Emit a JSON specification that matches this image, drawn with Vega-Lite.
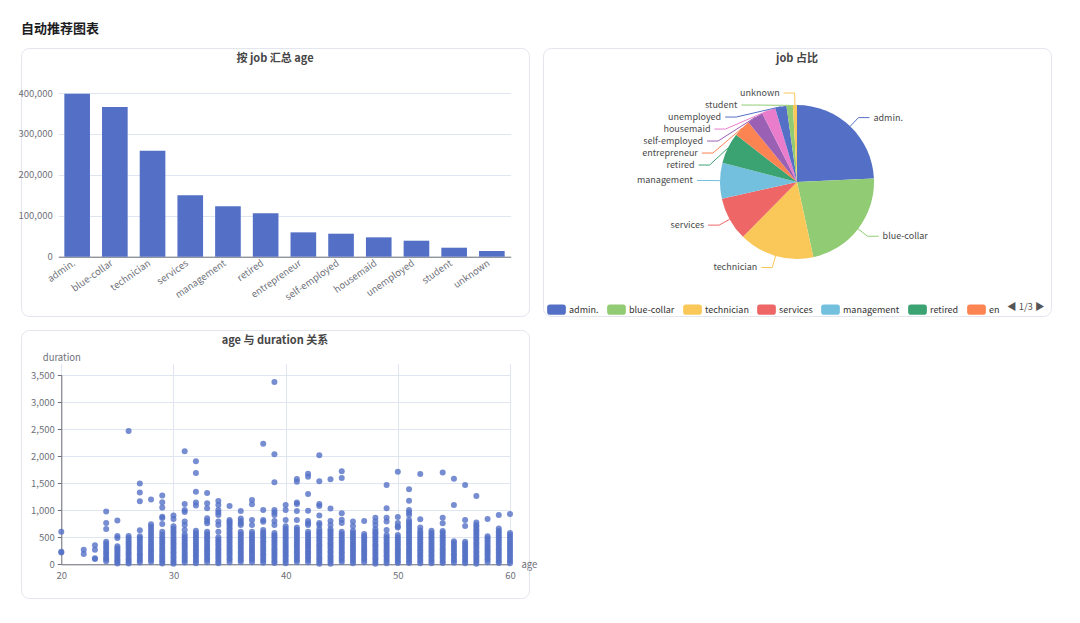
{
  "$schema": "https://vega.github.io/schema/vega-lite/v6.json",
  "background": "#ffffff",
  "padding": {"left": 17, "top": 22, "right": 0, "bottom": 0},
  "title": {"text": "自动推荐图表", "anchor": "start", "frame": "group", "fontSize": 13, "fontWeight": "bold", "color": "#1d1d1f", "offset": 12},
  "bounds": "flush",
  "spacing": 14,
  "columns": 2,
  "resolve": {
    "scale": {"x": "independent", "y": "independent", "color": "independent"},
    "axis": {"x": "independent", "y": "independent"},
    "legend": {"color": "independent"}
  },
  "datasets": {
    "jobs": [
      {"job": "admin.", "age": 398000},
      {"job": "blue-collar", "age": 366000},
      {"job": "technician", "age": 259000},
      {"job": "services", "age": 150000},
      {"job": "management", "age": 123000},
      {"job": "retired", "age": 106000},
      {"job": "entrepreneur", "age": 59500},
      {"job": "self-employed", "age": 56200},
      {"job": "housemaid", "age": 47300},
      {"job": "unemployed", "age": 39100},
      {"job": "student", "age": 22000},
      {"job": "unknown", "age": 13900}
    ],
    "calls": [
      {"age":20,"duration":600},{"age":20,"duration":232},{"age":20,"duration":218},
      {"age":22,"duration":268},{"age":22,"duration":192},
      {"age":23,"duration":352},{"age":23,"duration":268},{"age":23,"duration":112},{"age":23,"duration":98},
      {"age":24,"duration":978},{"age":24,"duration":762},{"age":24,"duration":652},{"age":24,"duration":415},{"age":24,"duration":378},{"age":24,"duration":336},{"age":24,"duration":292},{"age":24,"duration":246},{"age":24,"duration":208},{"age":24,"duration":172},{"age":24,"duration":128},{"age":24,"duration":93},{"age":24,"duration":57},
      {"age":25,"duration":812},{"age":25,"duration":522},{"age":25,"duration":488},{"age":25,"duration":334},{"age":25,"duration":298},{"age":25,"duration":262},{"age":25,"duration":224},{"age":25,"duration":181},{"age":25,"duration":147},{"age":25,"duration":109},{"age":25,"duration":74},{"age":25,"duration":42},{"age":25,"duration":16},
      {"age":26,"duration":2465},{"age":26,"duration":524},{"age":26,"duration":486},{"age":26,"duration":441},{"age":26,"duration":398},{"age":26,"duration":362},{"age":26,"duration":318},{"age":26,"duration":283},{"age":26,"duration":238},{"age":26,"duration":201},{"age":26,"duration":163},{"age":26,"duration":118},{"age":26,"duration":86},{"age":26,"duration":49},{"age":26,"duration":14},
      {"age":27,"duration":1492},{"age":27,"duration":1326},{"age":27,"duration":1166},{"age":27,"duration":628},{"age":27,"duration":517},{"age":27,"duration":488},{"age":27,"duration":447},{"age":27,"duration":404},{"age":27,"duration":358},{"age":27,"duration":313},{"age":27,"duration":272},{"age":27,"duration":229},{"age":27,"duration":188},{"age":27,"duration":152},{"age":27,"duration":108},{"age":27,"duration":71},{"age":27,"duration":33},
      {"age":28,"duration":1196},{"age":28,"duration":741},{"age":28,"duration":693},{"age":28,"duration":642},{"age":28,"duration":598},{"age":28,"duration":553},{"age":28,"duration":504},{"age":28,"duration":458},{"age":28,"duration":412},{"age":28,"duration":368},{"age":28,"duration":323},{"age":28,"duration":279},{"age":28,"duration":241},{"age":28,"duration":198},{"age":28,"duration":157},{"age":28,"duration":121},{"age":28,"duration":78},{"age":28,"duration":44},
      {"age":29,"duration":1271},{"age":29,"duration":1146},{"age":29,"duration":1049},{"age":29,"duration":881},{"age":29,"duration":858},{"age":29,"duration":746},{"age":29,"duration":602},{"age":29,"duration":553},{"age":29,"duration":502},{"age":29,"duration":458},{"age":29,"duration":419},{"age":29,"duration":381},{"age":29,"duration":332},{"age":29,"duration":288},{"age":29,"duration":251},{"age":29,"duration":209},{"age":29,"duration":168},{"age":29,"duration":131},{"age":29,"duration":88},{"age":29,"duration":52},{"age":29,"duration":14},
      {"age":30,"duration":902},{"age":30,"duration":838},{"age":30,"duration":702},{"age":30,"duration":657},{"age":30,"duration":612},{"age":30,"duration":568},{"age":30,"duration":523},{"age":30,"duration":478},{"age":30,"duration":442},{"age":30,"duration":398},{"age":30,"duration":361},{"age":30,"duration":318},{"age":30,"duration":282},{"age":30,"duration":238},{"age":30,"duration":203},{"age":30,"duration":158},{"age":30,"duration":122},{"age":30,"duration":79},{"age":30,"duration":41},{"age":30,"duration":11},
      {"age":31,"duration":2089},{"age":31,"duration":1116},{"age":31,"duration":1002},{"age":31,"duration":968},{"age":31,"duration":792},{"age":31,"duration":726},{"age":31,"duration":633},{"age":31,"duration":552},{"age":31,"duration":511},{"age":31,"duration":468},{"age":31,"duration":432},{"age":31,"duration":388},{"age":31,"duration":352},{"age":31,"duration":309},{"age":31,"duration":272},{"age":31,"duration":228},{"age":31,"duration":191},{"age":31,"duration":148},{"age":31,"duration":112},{"age":31,"duration":68},{"age":31,"duration":31},
      {"age":32,"duration":1904},{"age":32,"duration":1688},{"age":32,"duration":1343},{"age":32,"duration":1141},{"age":32,"duration":1086},{"age":32,"duration":622},{"age":32,"duration":578},{"age":32,"duration":541},{"age":32,"duration":498},{"age":32,"duration":462},{"age":32,"duration":418},{"age":32,"duration":382},{"age":32,"duration":338},{"age":32,"duration":302},{"age":32,"duration":258},{"age":32,"duration":221},{"age":32,"duration":178},{"age":32,"duration":142},{"age":32,"duration":98},{"age":32,"duration":61},{"age":32,"duration":19},
      {"age":33,"duration":1319},{"age":33,"duration":1128},{"age":33,"duration":1036},{"age":33,"duration":851},{"age":33,"duration":802},{"age":33,"duration":758},{"age":33,"duration":601},{"age":33,"duration":562},{"age":33,"duration":518},{"age":33,"duration":482},{"age":33,"duration":438},{"age":33,"duration":401},{"age":33,"duration":358},{"age":33,"duration":322},{"age":33,"duration":278},{"age":33,"duration":241},{"age":33,"duration":198},{"age":33,"duration":161},{"age":33,"duration":118},{"age":33,"duration":82},{"age":33,"duration":38},
      {"age":34,"duration":1171},{"age":34,"duration":1097},{"age":34,"duration":1003},{"age":34,"duration":958},{"age":34,"duration":912},{"age":34,"duration":792},{"age":34,"duration":728},{"age":34,"duration":604},{"age":34,"duration":502},{"age":34,"duration":458},{"age":34,"duration":421},{"age":34,"duration":378},{"age":34,"duration":342},{"age":34,"duration":298},{"age":34,"duration":262},{"age":34,"duration":218},{"age":34,"duration":182},{"age":34,"duration":138},{"age":34,"duration":102},{"age":34,"duration":58},{"age":34,"duration":21},
      {"age":35,"duration":1078},{"age":35,"duration":821},{"age":35,"duration":788},{"age":35,"duration":758},{"age":35,"duration":722},{"age":35,"duration":678},{"age":35,"duration":642},{"age":35,"duration":598},{"age":35,"duration":562},{"age":35,"duration":518},{"age":35,"duration":482},{"age":35,"duration":438},{"age":35,"duration":402},{"age":35,"duration":358},{"age":35,"duration":322},{"age":35,"duration":278},{"age":35,"duration":242},{"age":35,"duration":198},{"age":35,"duration":162},{"age":35,"duration":118},{"age":35,"duration":82},{"age":35,"duration":38},
      {"age":36,"duration":986},{"age":36,"duration":849},{"age":36,"duration":802},{"age":36,"duration":758},{"age":36,"duration":728},{"age":36,"duration":602},{"age":36,"duration":558},{"age":36,"duration":522},{"age":36,"duration":478},{"age":36,"duration":442},{"age":36,"duration":398},{"age":36,"duration":362},{"age":36,"duration":318},{"age":36,"duration":282},{"age":36,"duration":238},{"age":36,"duration":202},{"age":36,"duration":158},{"age":36,"duration":122},{"age":36,"duration":78},{"age":36,"duration":42},
      {"age":37,"duration":1189},{"age":37,"duration":1109},{"age":37,"duration":819},{"age":37,"duration":728},{"age":37,"duration":604},{"age":37,"duration":562},{"age":37,"duration":518},{"age":37,"duration":482},{"age":37,"duration":438},{"age":37,"duration":401},{"age":37,"duration":358},{"age":37,"duration":322},{"age":37,"duration":278},{"age":37,"duration":242},{"age":37,"duration":198},{"age":37,"duration":162},{"age":37,"duration":118},{"age":37,"duration":82},{"age":37,"duration":38},
      {"age":38,"duration":2231},{"age":38,"duration":1004},{"age":38,"duration":821},{"age":38,"duration":789},{"age":38,"duration":632},{"age":38,"duration":588},{"age":38,"duration":552},{"age":38,"duration":508},{"age":38,"duration":472},{"age":38,"duration":428},{"age":38,"duration":392},{"age":38,"duration":348},{"age":38,"duration":312},{"age":38,"duration":268},{"age":38,"duration":232},{"age":38,"duration":188},{"age":38,"duration":152},{"age":38,"duration":108},{"age":38,"duration":72},{"age":38,"duration":28},
      {"age":39,"duration":3372},{"age":39,"duration":2033},{"age":39,"duration":1515},{"age":39,"duration":1006},{"age":39,"duration":958},{"age":39,"duration":912},{"age":39,"duration":801},{"age":39,"duration":728},{"age":39,"duration":581},{"age":39,"duration":538},{"age":39,"duration":502},{"age":39,"duration":458},{"age":39,"duration":422},{"age":39,"duration":378},{"age":39,"duration":342},{"age":39,"duration":298},{"age":39,"duration":262},{"age":39,"duration":218},{"age":39,"duration":182},{"age":39,"duration":138},{"age":39,"duration":102},{"age":39,"duration":58},{"age":39,"duration":22},
      {"age":40,"duration":1097},{"age":40,"duration":1004},{"age":40,"duration":819},{"age":40,"duration":702},{"age":40,"duration":658},{"age":40,"duration":622},{"age":40,"duration":578},{"age":40,"duration":542},{"age":40,"duration":498},{"age":40,"duration":462},{"age":40,"duration":418},{"age":40,"duration":382},{"age":40,"duration":338},{"age":40,"duration":302},{"age":40,"duration":258},{"age":40,"duration":222},{"age":40,"duration":178},{"age":40,"duration":142},{"age":40,"duration":98},{"age":40,"duration":62},{"age":40,"duration":18},
      {"age":41,"duration":1577},{"age":41,"duration":1528},{"age":41,"duration":1141},{"age":41,"duration":1114},{"age":41,"duration":986},{"age":41,"duration":821},{"age":41,"duration":682},{"age":41,"duration":638},{"age":41,"duration":602},{"age":41,"duration":558},{"age":41,"duration":522},{"age":41,"duration":478},{"age":41,"duration":442},{"age":41,"duration":398},{"age":41,"duration":362},{"age":41,"duration":318},{"age":41,"duration":282},{"age":41,"duration":238},{"age":41,"duration":202},{"age":41,"duration":158},{"age":41,"duration":122},{"age":41,"duration":78},{"age":41,"duration":42},
      {"age":42,"duration":1676},{"age":42,"duration":1620},{"age":42,"duration":1299},{"age":42,"duration":991},{"age":42,"duration":802},{"age":42,"duration":758},{"age":42,"duration":726},{"age":42,"duration":602},{"age":42,"duration":558},{"age":42,"duration":522},{"age":42,"duration":478},{"age":42,"duration":442},{"age":42,"duration":398},{"age":42,"duration":362},{"age":42,"duration":318},{"age":42,"duration":282},{"age":42,"duration":238},{"age":42,"duration":202},{"age":42,"duration":158},{"age":42,"duration":122},{"age":42,"duration":78},{"age":42,"duration":38},
      {"age":43,"duration":2015},{"age":43,"duration":1534},{"age":43,"duration":1116},{"age":43,"duration":1078},{"age":43,"duration":901},{"age":43,"duration":762},{"age":43,"duration":726},{"age":43,"duration":652},{"age":43,"duration":608},{"age":43,"duration":572},{"age":43,"duration":528},{"age":43,"duration":492},{"age":43,"duration":448},{"age":43,"duration":412},{"age":43,"duration":368},{"age":43,"duration":332},{"age":43,"duration":288},{"age":43,"duration":252},{"age":43,"duration":208},{"age":43,"duration":172},{"age":43,"duration":128},{"age":43,"duration":92},{"age":43,"duration":48},{"age":43,"duration":12},
      {"age":44,"duration":1571},{"age":44,"duration":1030},{"age":44,"duration":801},{"age":44,"duration":726},{"age":44,"duration":648},{"age":44,"duration":612},{"age":44,"duration":568},{"age":44,"duration":532},{"age":44,"duration":488},{"age":44,"duration":452},{"age":44,"duration":408},{"age":44,"duration":372},{"age":44,"duration":328},{"age":44,"duration":292},{"age":44,"duration":248},{"age":44,"duration":212},{"age":44,"duration":168},{"age":44,"duration":132},{"age":44,"duration":88},{"age":44,"duration":52},{"age":44,"duration":12},
      {"age":45,"duration":1719},{"age":45,"duration":1596},{"age":45,"duration":943},{"age":45,"duration":822},{"age":45,"duration":762},{"age":45,"duration":602},{"age":45,"duration":558},{"age":45,"duration":522},{"age":45,"duration":478},{"age":45,"duration":442},{"age":45,"duration":398},{"age":45,"duration":362},{"age":45,"duration":318},{"age":45,"duration":282},{"age":45,"duration":238},{"age":45,"duration":202},{"age":45,"duration":158},{"age":45,"duration":122},{"age":45,"duration":78},{"age":45,"duration":42},
      {"age":46,"duration":790},{"age":46,"duration":708},{"age":46,"duration":622},{"age":46,"duration":578},{"age":46,"duration":542},{"age":46,"duration":498},{"age":46,"duration":462},{"age":46,"duration":418},{"age":46,"duration":382},{"age":46,"duration":338},{"age":46,"duration":302},{"age":46,"duration":258},{"age":46,"duration":222},{"age":46,"duration":178},{"age":46,"duration":142},{"age":46,"duration":98},{"age":46,"duration":62},{"age":46,"duration":18},
      {"age":47,"duration":801},{"age":47,"duration":562},{"age":47,"duration":518},{"age":47,"duration":482},{"age":47,"duration":438},{"age":47,"duration":402},{"age":47,"duration":358},{"age":47,"duration":322},{"age":47,"duration":278},{"age":47,"duration":242},{"age":47,"duration":198},{"age":47,"duration":162},{"age":47,"duration":118},{"age":47,"duration":82},{"age":47,"duration":38},
      {"age":48,"duration":862},{"age":48,"duration":792},{"age":48,"duration":727},{"age":48,"duration":652},{"age":48,"duration":608},{"age":48,"duration":572},{"age":48,"duration":528},{"age":48,"duration":492},{"age":48,"duration":448},{"age":48,"duration":412},{"age":48,"duration":368},{"age":48,"duration":332},{"age":48,"duration":288},{"age":48,"duration":252},{"age":48,"duration":208},{"age":48,"duration":172},{"age":48,"duration":128},{"age":48,"duration":92},{"age":48,"duration":48},{"age":48,"duration":12},
      {"age":49,"duration":1466},{"age":49,"duration":1035},{"age":49,"duration":862},{"age":49,"duration":791},{"age":49,"duration":636},{"age":49,"duration":542},{"age":49,"duration":498},{"age":49,"duration":462},{"age":49,"duration":418},{"age":49,"duration":382},{"age":49,"duration":338},{"age":49,"duration":302},{"age":49,"duration":258},{"age":49,"duration":222},{"age":49,"duration":178},{"age":49,"duration":142},{"age":49,"duration":98},{"age":49,"duration":62},{"age":49,"duration":18},
      {"age":50,"duration":1713},{"age":50,"duration":876},{"age":50,"duration":762},{"age":50,"duration":702},{"age":50,"duration":681},{"age":50,"duration":541},{"age":50,"duration":502},{"age":50,"duration":458},{"age":50,"duration":422},{"age":50,"duration":378},{"age":50,"duration":342},{"age":50,"duration":298},{"age":50,"duration":262},{"age":50,"duration":218},{"age":50,"duration":182},{"age":50,"duration":138},{"age":50,"duration":102},{"age":50,"duration":58},{"age":50,"duration":22},
      {"age":51,"duration":1386},{"age":51,"duration":1177},{"age":51,"duration":1002},{"age":51,"duration":958},{"age":51,"duration":911},{"age":51,"duration":821},{"age":51,"duration":778},{"age":51,"duration":742},{"age":51,"duration":698},{"age":51,"duration":662},{"age":51,"duration":618},{"age":51,"duration":582},{"age":51,"duration":538},{"age":51,"duration":502},{"age":51,"duration":458},{"age":51,"duration":422},{"age":51,"duration":378},{"age":51,"duration":342},{"age":51,"duration":298},{"age":51,"duration":262},{"age":51,"duration":218},{"age":51,"duration":182},{"age":51,"duration":138},{"age":51,"duration":102},{"age":51,"duration":58},{"age":51,"duration":22},
      {"age":52,"duration":1670},{"age":52,"duration":832},{"age":52,"duration":681},{"age":52,"duration":622},{"age":52,"duration":578},{"age":52,"duration":542},{"age":52,"duration":498},{"age":52,"duration":462},{"age":52,"duration":418},{"age":52,"duration":382},{"age":52,"duration":338},{"age":52,"duration":302},{"age":52,"duration":258},{"age":52,"duration":222},{"age":52,"duration":178},{"age":52,"duration":142},{"age":52,"duration":98},{"age":52,"duration":62},{"age":52,"duration":18},
      {"age":53,"duration":621},{"age":53,"duration":578},{"age":53,"duration":542},{"age":53,"duration":498},{"age":53,"duration":462},{"age":53,"duration":418},{"age":53,"duration":382},{"age":53,"duration":338},{"age":53,"duration":302},{"age":53,"duration":258},{"age":53,"duration":222},{"age":53,"duration":178},{"age":53,"duration":142},{"age":53,"duration":98},{"age":53,"duration":62},{"age":53,"duration":18},
      {"age":54,"duration":1695},{"age":54,"duration":862},{"age":54,"duration":761},{"age":54,"duration":618},{"age":54,"duration":582},{"age":54,"duration":538},{"age":54,"duration":502},{"age":54,"duration":458},{"age":54,"duration":422},{"age":54,"duration":378},{"age":54,"duration":342},{"age":54,"duration":298},{"age":54,"duration":262},{"age":54,"duration":218},{"age":54,"duration":182},{"age":54,"duration":138},{"age":54,"duration":102},{"age":54,"duration":58},{"age":54,"duration":22},
      {"age":55,"duration":1584},{"age":55,"duration":1097},{"age":55,"duration":428},{"age":55,"duration":392},{"age":55,"duration":348},{"age":55,"duration":312},{"age":55,"duration":268},{"age":55,"duration":232},{"age":55,"duration":188},{"age":55,"duration":152},{"age":55,"duration":108},{"age":55,"duration":72},{"age":55,"duration":28},
      {"age":56,"duration":1466},{"age":56,"duration":821},{"age":56,"duration":708},{"age":56,"duration":418},{"age":56,"duration":382},{"age":56,"duration":338},{"age":56,"duration":302},{"age":56,"duration":258},{"age":56,"duration":222},{"age":56,"duration":178},{"age":56,"duration":142},{"age":56,"duration":98},{"age":56,"duration":62},{"age":56,"duration":18},
      {"age":57,"duration":1263},{"age":57,"duration":772},{"age":57,"duration":728},{"age":57,"duration":692},{"age":57,"duration":648},{"age":57,"duration":612},{"age":57,"duration":568},{"age":57,"duration":532},{"age":57,"duration":488},{"age":57,"duration":452},{"age":57,"duration":408},{"age":57,"duration":372},{"age":57,"duration":328},{"age":57,"duration":292},{"age":57,"duration":248},{"age":57,"duration":212},{"age":57,"duration":168},{"age":57,"duration":132},{"age":57,"duration":88},{"age":57,"duration":52},{"age":57,"duration":12},
      {"age":58,"duration":838},{"age":58,"duration":518},{"age":58,"duration":482},{"age":58,"duration":438},{"age":58,"duration":402},{"age":58,"duration":358},{"age":58,"duration":322},{"age":58,"duration":278},{"age":58,"duration":242},{"age":58,"duration":198},{"age":58,"duration":162},{"age":58,"duration":118},{"age":58,"duration":82},{"age":58,"duration":38},
      {"age":59,"duration":912},{"age":59,"duration":662},{"age":59,"duration":618},{"age":59,"duration":582},{"age":59,"duration":538},{"age":59,"duration":502},{"age":59,"duration":458},{"age":59,"duration":422},{"age":59,"duration":378},{"age":59,"duration":342},{"age":59,"duration":298},{"age":59,"duration":262},{"age":59,"duration":218},{"age":59,"duration":182},{"age":59,"duration":138},{"age":59,"duration":102},{"age":59,"duration":58},{"age":59,"duration":22},
      {"age":60,"duration":930},{"age":60,"duration":578},{"age":60,"duration":542},{"age":60,"duration":498},{"age":60,"duration":462},{"age":60,"duration":418},{"age":60,"duration":382},{"age":60,"duration":338},{"age":60,"duration":302},{"age":60,"duration":258},{"age":60,"duration":222},{"age":60,"duration":178},{"age":60,"duration":142},{"age":60,"duration":98},{"age":60,"duration":62},{"age":60,"duration":18}
    ]
  },
  "concat": [
    {
      "width": 508,
      "height": 268,
      "title": {"text": "按 job 汇总 age", "offset": -16},
      "data": {"name": "jobs"},
      "mark": {"type": "bar", "color": "#5470c6"},
      "encoding": {
        "x": {
          "field": "job", "type": "nominal", "sort": null,
          "scale": {"range": [37.3, 489.7], "paddingInner": 0.32, "paddingOuter": 0.16},
          "axis": {"title": null, "orient": "bottom", "offset": -59.3, "labelAngle": -35, "labelAlign": "right", "labelBaseline": "middle", "labelPadding": 5, "labelOffset": -3, "ticks": false, "labelOverlap": false, "grid": false}
        },
        "y": {
          "field": "age", "type": "quantitative",
          "scale": {"domain": [0, 400000], "range": [208.7, 45], "nice": false},
          "axis": {"title": null, "offset": -37.3, "values": [0, 100000, 200000, 300000, 400000], "format": ",d", "domain": false, "ticks": false, "labelPadding": 6, "grid": true}
        }
      }
    },
    {
      "width": 508,
      "height": 268,
      "title": {"text": "job 占比", "offset": -16},
      "data": {"name": "jobs"},
      "layer": [
        {
          "mark": {"type": "arc", "radius": 77},
          "encoding": {
            "theta": {"field": "age", "type": "quantitative", "stack": true},
            "order": {"field": "age", "type": "quantitative", "sort": "descending"},
            "color": {
              "field": "job", "type": "nominal", "sort": null,
              "scale": {
                "domain": ["admin.", "blue-collar", "technician", "services", "management", "retired", "entrepreneur", "self-employed", "housemaid", "unemployed", "student", "unknown"],
                "range": ["#5470c6", "#91cc75", "#fac858", "#ee6666", "#73c0de", "#3ba272", "#fc8452", "#9a60b4", "#ea7ccc", "#5470c6", "#91cc75", "#fac858"]
              },
              "legend": {
                "orient": "none", "legendX": 4, "legendY": 252, "direction": "horizontal",
                "values": ["admin.", "blue-collar", "technician", "services", "management", "retired", "entrepreneur"],
                "labelExpr": "datum.label == 'entrepreneur' ? 'en' : datum.label",
                "title": "◀ 1/3 ▶", "titleOrient": "right", "titleFontSize": 9.5, "titleFontWeight": "normal", "titleColor": "#555555", "titlePadding": 8,
                "symbolType": "M-0.7,-0.56L0.7,-0.56Q1,-0.56 1,-0.26L1,0.26Q1,0.56 0.7,0.56L-0.7,0.56Q-1,0.56 -1,0.26L-1,-0.26Q-1,-0.56 -0.7,-0.56Z",
                "symbolSize": 350, "symbolStrokeWidth": 0, "symbolOpacity": 1,
                "labelFontSize": 9, "labelColor": "#333333", "labelOffset": 3, "columnPadding": 8, "padding": 0
              }
            }
          }
        },
        {
          "transform": [
            {"stack": "age", "groupby": [], "sort": [{"field": "age", "order": "descending"}], "as": ["v0", "v1"]},
            {"joinaggregate": [{"op": "sum", "field": "age", "as": "total"}]},
            {"calculate": "PI * (datum.v0 + datum.v1) / datum.total", "as": "ang"},
            {"calculate": "datum.ang > PI ? 'L' : 'R'", "as": "side"},
            {"calculate": "134 - 89 * cos(datum.ang)", "as": "ny"},
            {"window": [{"op": "row_number", "as": "k"}], "groupby": ["side"], "sort": [{"field": "ny", "order": "ascending"}]},
            {"calculate": "datum.ny - 12 * datum.k", "as": "t"},
            {"window": [{"op": "max", "field": "t", "as": "tm"}], "groupby": ["side"], "sort": [{"field": "ny", "order": "ascending"}], "frame": [null, 0]},
            {"calculate": "datum.tm + 12 * datum.k", "as": "ly"},
            {"calculate": "datum.side == 'L' ? -1 : 1", "as": "dir"},
            {"calculate": "sqrt(max(0, 7921 - pow(datum.ly - 134, 2)))", "as": "hx"},
            {"calculate": "254 + 77 * sin(datum.ang)", "as": "ax"},
            {"calculate": "134 - 77 * cos(datum.ang)", "as": "ay"},
            {"calculate": "254 + datum.dir * datum.hx", "as": "bx"},
            {"calculate": "datum.bx + datum.dir * 11", "as": "ex"},
            {"calculate": "datum.ex + datum.dir * 4", "as": "tx"}
          ],
          "layer": [
            {
              "mark": {"type": "rule", "strokeWidth": 1},
              "encoding": {
                "x": {"field": "ax", "type": "quantitative", "scale": null},
                "y": {"field": "ay", "type": "quantitative", "scale": null},
                "x2": {"field": "bx"},
                "y2": {"field": "ly"},
                "color": {"field": "job", "type": "nominal", "legend": null}
              }
            },
            {
              "mark": {"type": "rule", "strokeWidth": 1},
              "encoding": {
                "x": {"field": "bx", "type": "quantitative", "scale": null},
                "y": {"field": "ly", "type": "quantitative", "scale": null},
                "x2": {"field": "ex"},
                "y2": {"field": "ly"},
                "color": {"field": "job", "type": "nominal", "legend": null}
              }
            },
            {
              "transform": [{"filter": "datum.side == 'L'"}],
              "mark": {"type": "text", "align": "right", "baseline": "middle", "fontSize": 9, "color": "#4a4a4a"},
              "encoding": {
                "x": {"field": "tx", "type": "quantitative", "scale": null},
                "y": {"field": "ly", "type": "quantitative", "scale": null},
                "text": {"field": "job"}
              }
            },
            {
              "transform": [{"filter": "datum.side == 'R'"}],
              "mark": {"type": "text", "align": "left", "baseline": "middle", "fontSize": 9, "color": "#4a4a4a"},
              "encoding": {
                "x": {"field": "tx", "type": "quantitative", "scale": null},
                "y": {"field": "ly", "type": "quantitative", "scale": null},
                "text": {"field": "job"}
              }
            }
          ]
        }
      ]
    },
    {
      "width": 508,
      "height": 268,
      "title": {"text": "age 与 duration 关系", "offset": -16},
      "data": {"name": "calls"},
      "mark": {"type": "circle", "size": 36, "opacity": 0.8, "color": "#5470c6"},
      "encoding": {
        "x": {
          "field": "age", "type": "quantitative",
          "scale": {"domain": [20, 60], "range": [40.3, 489], "nice": false, "zero": false},
          "axis": {"offset": -33.7, "values": [20, 30, 40, 50, 60], "grid": true, "ticks": false, "labelPadding": 6, "labelFlush": false, "title": "age", "titleX": 500, "titleY": 0, "titleAlign": "left", "titleBaseline": "middle", "titleAngle": 0}
        },
        "y": {
          "field": "duration", "type": "quantitative",
          "scale": {"domain": [0, 3500], "range": [234.3, 45], "nice": false},
          "axis": {"offset": -40.3, "values": [0, 500, 1000, 1500, 2000, 2500, 3000, 3500], "format": ",d", "grid": true, "ticks": true, "tickSize": 4, "labelPadding": 3, "title": "duration", "titleAngle": 0, "titleX": 0, "titleY": 27.3, "titleAlign": "center", "titleBaseline": "middle"}
        }
      }
    }
  ],
  "config": {
    "font": "Noto Sans CJK SC",
    "view": {"stroke": "#e3e6ee", "strokeWidth": 1, "cornerRadius": 8, "fill": "#ffffff"},
    "axis": {"labelColor": "#6e7079", "labelFontSize": 9.5, "gridColor": "#e0e6f1", "domainColor": "#6e7079", "tickColor": "#6e7079", "titleColor": "#6e7079", "titleFontSize": 9.5, "titleFontWeight": "normal"},
    "title": {"fontSize": 11, "fontWeight": "bold", "color": "#464646"}
  }
}
